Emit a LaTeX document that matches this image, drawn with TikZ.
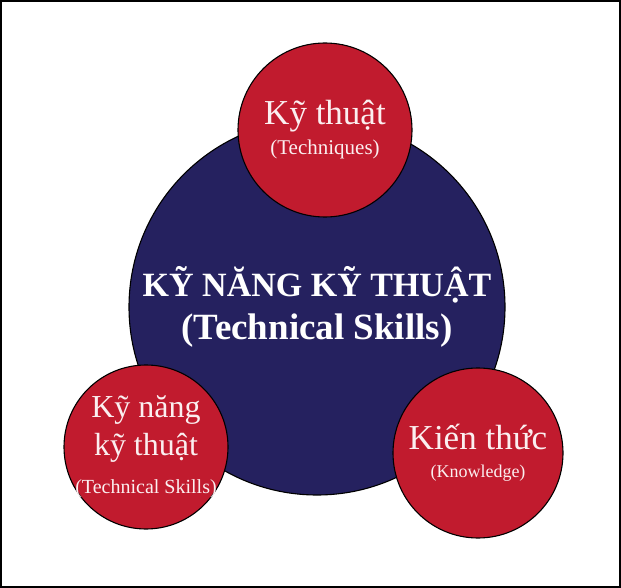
\documentclass[tikz,border=0pt]{standalone}
\usepackage{fontspec}
\setmainfont{Liberation Serif}
\usetikzlibrary{positioning}
\definecolor{skillnavy}{HTML}{25215F}
\definecolor{skillred}{HTML}{C11B2E}
\definecolor{softwhite}{HTML}{FBEFF0}

\begin{document}
\begin{tikzpicture}[x=1pt, y=-1pt, node distance=170pt,
  ball/.style={circle, draw=black, line width=1.1pt, fill=skillred, text=softwhite, align=center, inner sep=-12pt, minimum size=#1}]
\useasboundingbox (0,0) rectangle (621,588);
\draw[line width=1.6pt] (0.8,0.8) rectangle (620.2,587.2);
% centre circle with the title
\node (skills) [circle, draw=black, line width=1.1pt, fill=skillnavy, text=white, align=center, minimum size=376pt, inner sep=0pt, font=\bfseries\fontsize{34}{43}\selectfont] at (317,307) {KỸ NĂNG KỸ THUẬT\\{\fontsize{37}{43}\selectfont (Technical Skills)}};
% three red circles round it
\node (techniques) [ball=174pt, above of=skills, xshift=8pt, yshift=7pt, font=\fontsize{35}{30}\selectfont] {Kỹ thuật\\{\fontsize{21}{20}\selectfont (Techniques)}};
\node (handskills) [ball=164pt, left of=skills, xshift=-1pt, yshift=-140pt, font=\fontsize{32}{38}\selectfont] {Kỹ năng\\kỹ thuật\\{\fontsize{20}{17}\selectfont (Technical Skills)}};
\node (knowledge) [ball=170pt, right of=skills, xshift=-9pt, yshift=-146pt, font=\fontsize{35}{28}\selectfont] {Kiến thức\\{\fontsize{18}{18}\selectfont (Knowledge)}};

\end{tikzpicture}
\end{document}
